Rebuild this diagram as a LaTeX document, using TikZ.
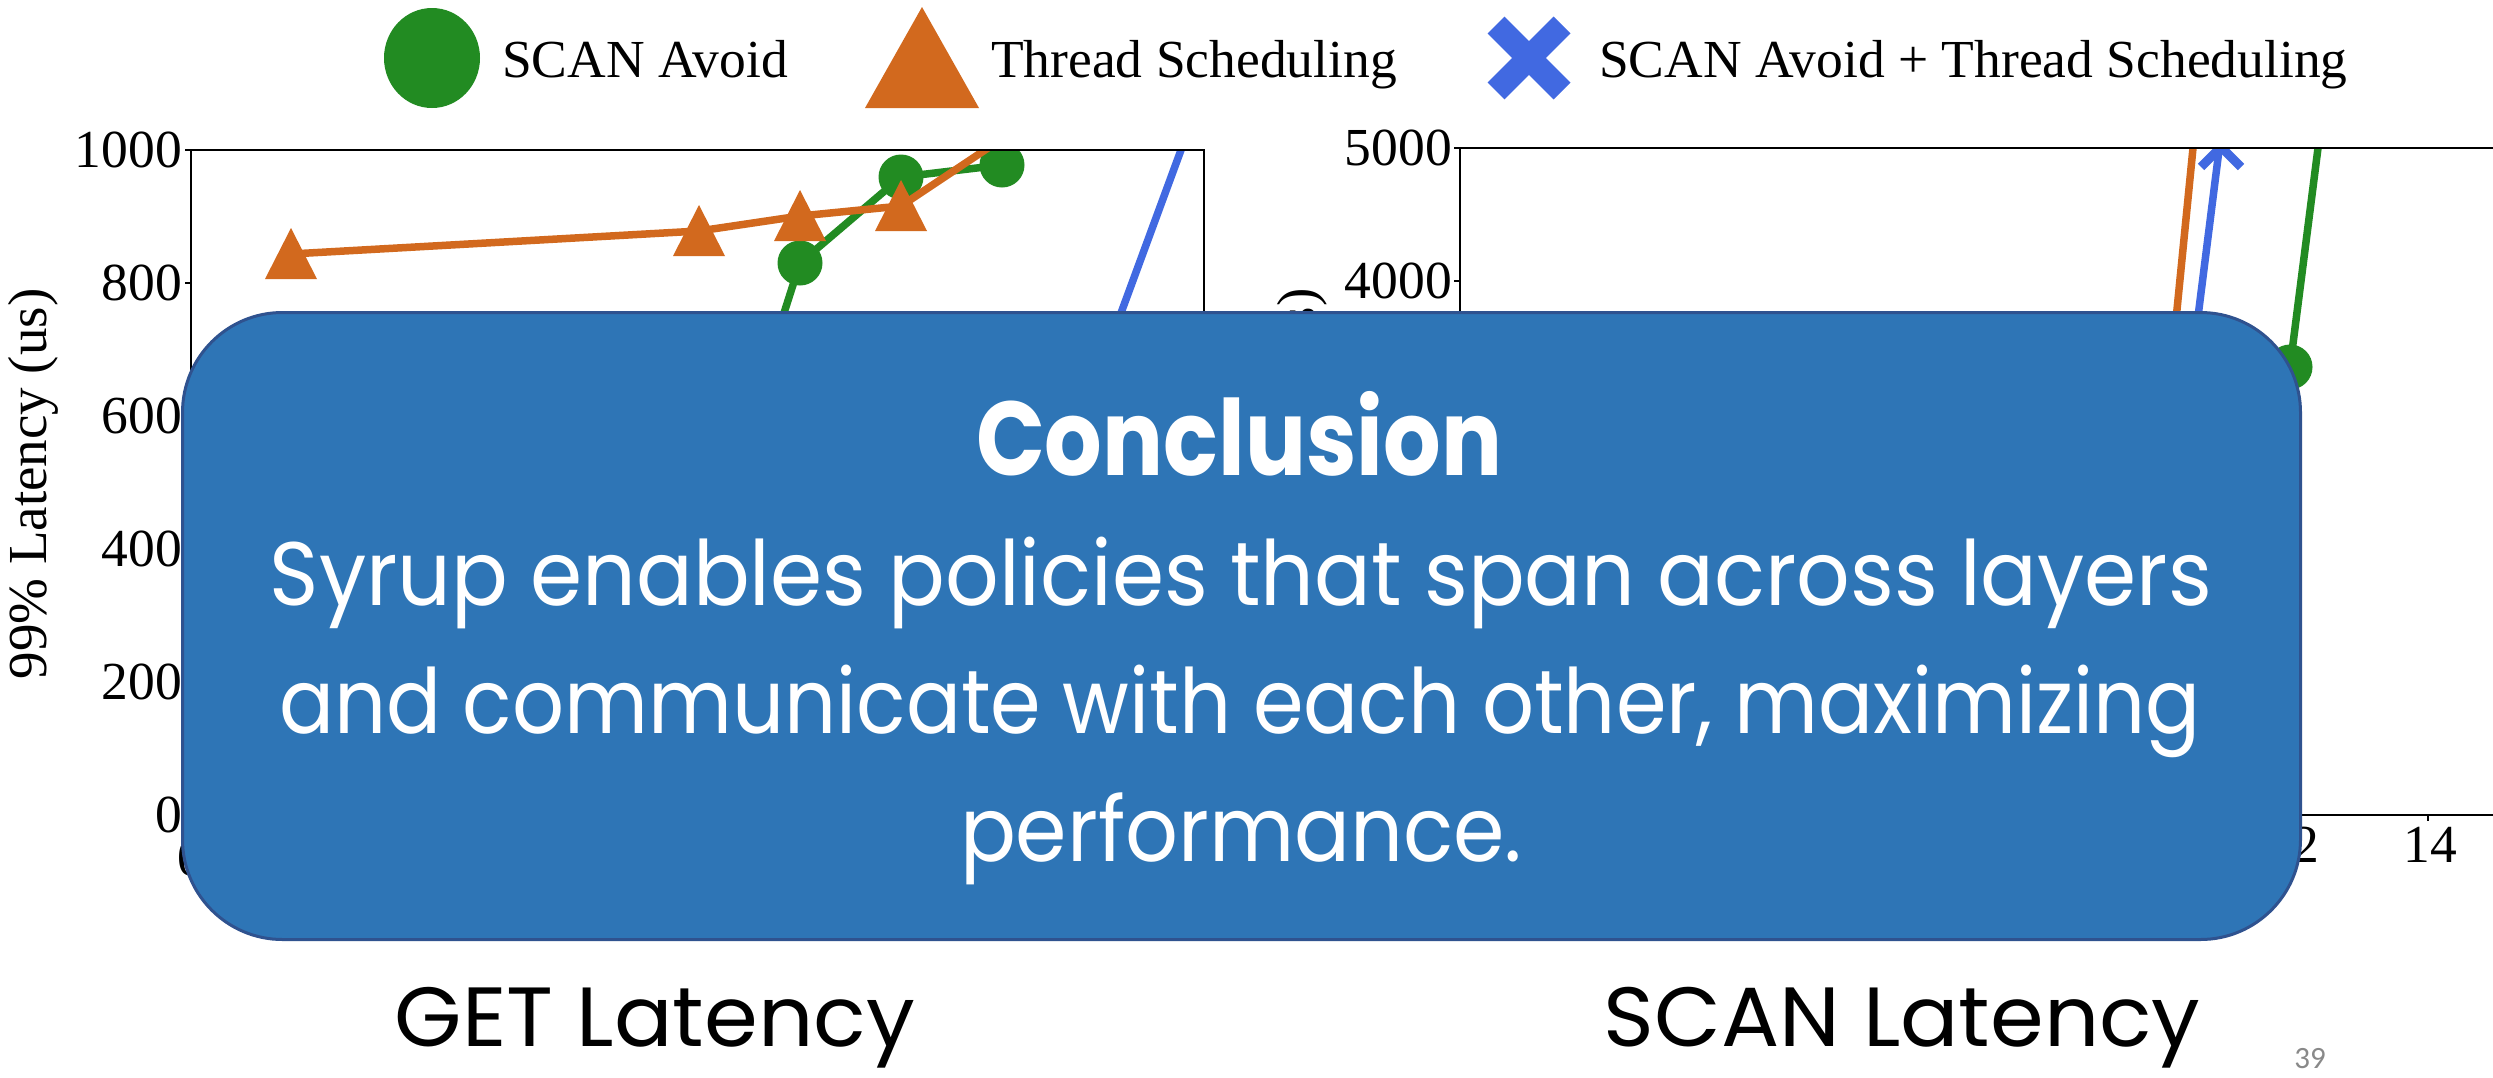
\documentclass[tikz,border=0pt]{standalone}
\usepackage{fontspec}
\usepackage{graphicx}
\setmainfont{Liberation Serif}
\newfontfamily\gfont{Poppins}
\newfontfamily\pgnumfont{Carlito}
\definecolor{sgreen}{HTML}{228B22}
\definecolor{sorange}{HTML}{D2691E}
\definecolor{sblue}{HTML}{4169E1}
\definecolor{boxfill}{HTML}{2E75B6}
\definecolor{boxline}{HTML}{2F528F}
\definecolor{pggray}{HTML}{898989}
\newcommand\fitw[2]{\resizebox{#1pt}{\height}{#2}}
\newcommand\otri[1]{\fill[sorange] #1 ++(0,-26) -- ++(26,51) -- ++(-52,0) -- cycle;}
\tikzset{
  axisline/.style={black, line width=1.6pt},
  ticklab/.style={font=\fontsize{53.5}{60}\selectfont, inner sep=0pt},
  legtext/.style={font=\fontsize{53.5}{60}\selectfont, inner sep=0pt, anchor=base west},
  gline/.style={sgreen, line width=7.5pt, line join=round},
  oline/.style={sorange, line width=7.5pt, line join=round},
  bline/.style={sblue, line width=7.5pt, line join=round},
  gdot/.style={circle, fill=sgreen, minimum size=45pt, inner sep=0pt},
  boxtext/.style={text=white, inner sep=0pt, anchor=base, font=\gfont\fontsize{90}{100}\selectfont},
  titletext/.style={text=black, inner sep=0pt, anchor=base, font=\gfont\fontsize{84}{94}\selectfont},
}
\begin{document}
\begin{tikzpicture}[x=1pt,y=-1pt]
\useasboundingbox (0,0) rectangle (2493,1077);
\fill[white] (0,0) rectangle (2493,1077);

% ---------- legend ----------
\fill[sgreen] (432,58) ellipse (48 and 50);
\fill[sorange] (922,7) -- (979,108) -- (865,108) -- cycle;
\draw[sblue, line width=24pt] (1496,25) -- (1562,91) (1562,25) -- (1496,91);
\node[legtext] (leg1) at (502,77) {SCAN Avoid};
\node[legtext] (leg2) at (991,77) {Thread Scheduling};
\node[legtext] (leg3) at (1599,77) {SCAN Avoid + Thread Scheduling};

% ---------- left plot ----------
\begin{scope}
\clip (191,150) rectangle (1204,815);
\draw[gline] (760,388) -- (800,263) -- (901,177) -- (1002,165);
\node[gdot] (g1) at (800,263) {};
\node[gdot] (g2) at (901,177) {};
\node[gdot] (g3) at (1002,165) {};
\draw[oline] (291,254) -- (699,231) -- (800,216) -- (901,206) -- (1069,94);
\otri{(291,254)}
\otri{(699,231)}
\otri{(800,216)}
\otri{(901,206)}
\draw[bline] (1100,370) -- (1181,150) -- (1200,98);
\end{scope}
\draw[axisline] (191,150) rectangle (1204,815);
\foreach \yy/\lab in {150/1000,283/800,416/600,549/400,682/200,815/0}{
  \draw[axisline] (185,\yy) -- (191,\yy);
  \node[ticklab, anchor=east] (yl\lab) at (182,\yy) {\lab};
}
\node[ticklab, anchor=north] (xl0) at (191,840) {0};
\node[font=\fontsize{55}{60}\selectfont, rotate=90, inner sep=0pt] (ylab1) at (33,484) {99\% Latency (us)};

% ---------- right plot ----------
\begin{scope}
\clip (1460,148) rectangle (2493,815);
\draw[gline] (2280,420) -- (2290,367) -- (2318,148) -- (2330,60);
\node[gdot] (g4) at (2290,367) {};
\draw[oline] (2170,380) -- (2193,148) -- (2200,80);
\draw[bline] (2190,380) -- (2219,150) -- (2225,100);
\draw[sblue, line width=9pt] (2201,127) -- (2241,167) (2241,127) -- (2201,167);
\end{scope}
\draw[axisline] (2493,148) -- (1460,148) -- (1460,815) -- (2493,815);
\draw[axisline] (1454,148) -- (1460,148) (1454,281) -- (1460,281);
\draw[axisline] (2293,815) -- (2293,821) (2428,815) -- (2428,821);
\node[ticklab, anchor=east] (yr5) at (1452,148) {5000};
\node[ticklab, anchor=east] (yr4) at (1452,281) {4000};
\node[ticklab, anchor=north] (xr12) at (2292,827) {12};
\node[ticklab, anchor=north] (xr14) at (2430,827) {14};
\node[font=\fontsize{55}{60}\selectfont, rotate=90, inner sep=0pt] (ylab2) at (1302,484) {99\% Latency (us)};

% ---------- conclusion box ----------
\node[draw=boxline, fill=boxfill, line width=3pt, rounded corners=100pt,
      minimum width=2118pt, minimum height=627pt, inner sep=0pt, anchor=north west] (box) at (181,311) {};
\node[boxtext, font=\gfont\bfseries\fontsize{105}{110}\selectfont] (concl) at (1239,475) {\fitw{526}{Conclusion}};
\node[boxtext] (l1) at (1241,605) {\fitw{1942}{Syrup enables policies that span across layers}};
\node[boxtext] (l2) at (1240,733) {\fitw{1922}{and communicate with each other, maximizing}};
\node[boxtext] (l3) at (1241,861) {\fitw{562}{performance.}};

% ---------- titles ----------
\node[titletext] (t1) at (655,1046) {\fitw{520}{GET Latency}};
\node[titletext] (t2) at (1902,1046) {\fitw{597}{SCAN Latency}};
\node[font=\pgnumfont\fontsize{31}{34}\selectfont, text=pggray, inner sep=0pt, anchor=base] (pg) at (2310,1068) {39};
\end{tikzpicture}
\end{document}
